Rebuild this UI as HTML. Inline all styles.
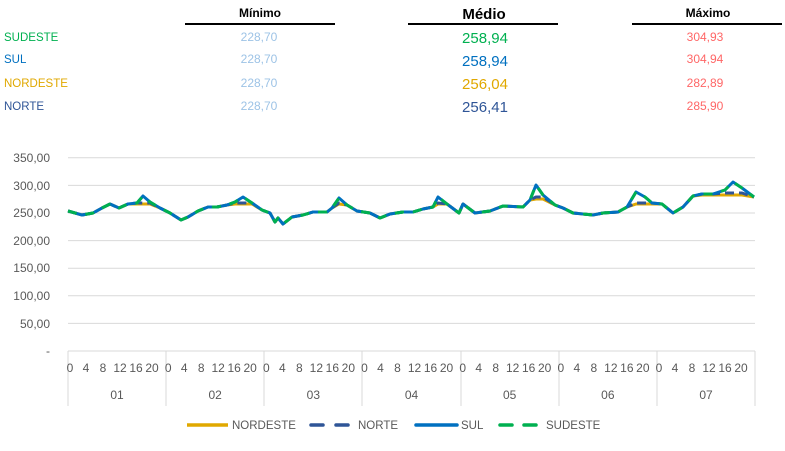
<!DOCTYPE html>
<html><head><meta charset="utf-8"><style>
body{margin:0;background:#fff;width:785px;height:446px;overflow:hidden;font-family:"Liberation Sans",sans-serif}
</style></head><body>
<svg width="785" height="446" viewBox="0 0 785 446" xmlns="http://www.w3.org/2000/svg" font-family="Liberation Sans, sans-serif">
<g font-size="12" font-weight="bold" fill="#000" text-anchor="middle">
<text x="260" y="17">Mínimo</text>
<text x="484" y="19" font-size="15">Médio</text>
<text x="708" y="17">Máximo</text>
</g>
<g stroke="#000" stroke-width="2">
<line x1="185" y1="24" x2="335" y2="24"/><line x1="408" y1="24" x2="558" y2="24"/><line x1="632" y1="24" x2="782" y2="24"/>
</g>
<g font-size="11.5">
<text x="4" y="41" fill="#00b050">SUDESTE</text>
<text x="4" y="63" fill="#0070c0">SUL</text>
<text x="4" y="87" fill="#e0a800">NORDESTE</text>
<text x="4" y="110" fill="#2f5597">NORTE</text>
</g>
<g font-size="12" fill="#9dc3e6" text-anchor="middle">
<text x="259" y="41">228,70</text><text x="259" y="63">228,70</text><text x="259" y="87">228,70</text><text x="259" y="110">228,70</text>
</g>
<g font-size="15" text-anchor="middle">
<text x="485" y="43" fill="#00b050">258,94</text><text x="485" y="66" fill="#0070c0">258,94</text><text x="485" y="89" fill="#e0a800">256,04</text><text x="485" y="112" fill="#2f5597">256,41</text>
</g>
<g font-size="12" fill="#ff6666" text-anchor="middle">
<text x="705" y="41">304,93</text><text x="705" y="63">304,94</text><text x="705" y="87">282,89</text><text x="705" y="110">285,90</text>
</g>
<g stroke="#d9d9d9" stroke-width="1">
<line x1="68" x2="755" y1="323.4" y2="323.4"/><line x1="68" x2="755" y1="295.8" y2="295.8"/><line x1="68" x2="755" y1="268.2" y2="268.2"/><line x1="68" x2="755" y1="240.6" y2="240.6"/><line x1="68" x2="755" y1="213" y2="213"/><line x1="68" x2="755" y1="185.4" y2="185.4"/><line x1="68" x2="755" y1="157.8" y2="157.8"/>
<line x1="68" x2="755" y1="351" y2="351"/>
<line x1="68" x2="68" y1="351" y2="406"/><line x1="166" x2="166" y1="351" y2="406"/><line x1="264" x2="264" y1="351" y2="406"/><line x1="362" x2="362" y1="351" y2="406"/><line x1="461" x2="461" y1="351" y2="406"/><line x1="559" x2="559" y1="351" y2="406"/><line x1="657" x2="657" y1="351" y2="406"/><line x1="755" x2="755" y1="351" y2="406"/>
</g>
<g font-size="12" fill="#595959" text-anchor="end">
<text x="50" y="355">-</text><text x="50" y="328">50,00</text><text x="50" y="300">100,00</text><text x="50" y="272">150,00</text><text x="50" y="245">200,00</text><text x="50" y="217">250,00</text><text x="50" y="190">300,00</text><text x="50" y="162">350,00</text>
</g>
<g id="xl" font-size="12" fill="#595959" text-anchor="middle"></g>
<g id="lines" fill="none" stroke-linejoin="round"></g>
<g font-size="11.5" fill="#595959">
<line x1="187" y1="425" x2="228" y2="425" stroke="#e0a800" stroke-width="3.5"/><text x="232" y="429">NORDESTE</text>
<line x1="311" y1="425" x2="350" y2="425" stroke="#2f5597" stroke-width="3.5" stroke-dasharray="12,13" stroke-linecap="round"/><text x="358" y="429">NORTE</text>
<line x1="416" y1="425" x2="457" y2="425" stroke="#0070c0" stroke-width="3.5" stroke-linecap="round"/><text x="461" y="429">SUL</text>
<line x1="500" y1="425" x2="537" y2="425" stroke="#00b050" stroke-width="3.5" stroke-dasharray="12,12" stroke-linecap="round"/><text x="546" y="429">SUDESTE</text>
</g>
</svg>
<script>
var ns="http://www.w3.org/2000/svg";
var xl=document.getElementById("xl");
var offs=[2,18,35,52,68,84];var hs=["0","4","8","12","16","20"];
for(var d=0;d<7;d++){var x0=68+d*98.17;
for(var i=0;i<6;i++){var t=document.createElementNS(ns,"text");t.setAttribute("x",x0+offs[i]);t.setAttribute("y",372);t.textContent=hs[i];xl.appendChild(t);}
var t=document.createElementNS(ns,"text");t.setAttribute("x",x0+49);t.setAttribute("y",399);t.textContent="0"+(d+1);xl.appendChild(t);}
var P=[[68,211],[82,215],[93,213],[102,208],[110,204],[119,208],[128,204],[137,203],[143,196],[150,202],[160,208],[170,213],[181,220],[188,217],[198,211],[208,207],[217,207],[227,205],[235,202],[243,197],[252,203],[262,210],[270,213],[275,222],[278,218],[283,224],[292,217],[303,215],[313,212],[327,212],[332,208],[339,198],[347,205],[357,211],[370,213],[380,218],[390,214],[403,212],[413,212],[423,209],[433,207],[438,197],[447,204],[459,213],[463,204],[475,213],[490,211],[503,206],[523,207],[530,200],[536,185],[543,195],[555,205],[563,208],[573,213],[593,215],[603,213],[618,212],[627,207],[636,192],[645,197],[652,203],[662,204],[673,213],[683,207],[693,196],[702,194],[713,194],[725,190],[733,182],[742,188],[754,197]];
function pts(cap){return P.map(function(p){var y=p[1];if(cap&&y<cap(p[0]))y=cap(p[0]);return p[0]+","+y;}).join(" ");}
var g=document.getElementById("lines");
function add(s,c,dash){var l=document.createElementNS(ns,"polyline");l.setAttribute("points",s);l.setAttribute("stroke",c);l.setAttribute("stroke-width","3");if(dash)l.setAttribute("stroke-dasharray",dash);g.appendChild(l);}
add(pts(function(x){return x>680?195:(x>520&&x<560?199:204);}),"#e0a800");
add(pts(function(x){return x>680?193:(x>520&&x<560?197:203);}),"#2f5597","9,5");
add(pts(null),"#0070c0");
add(pts(null),"#00b050","9,9");
</script>
</body></html>
